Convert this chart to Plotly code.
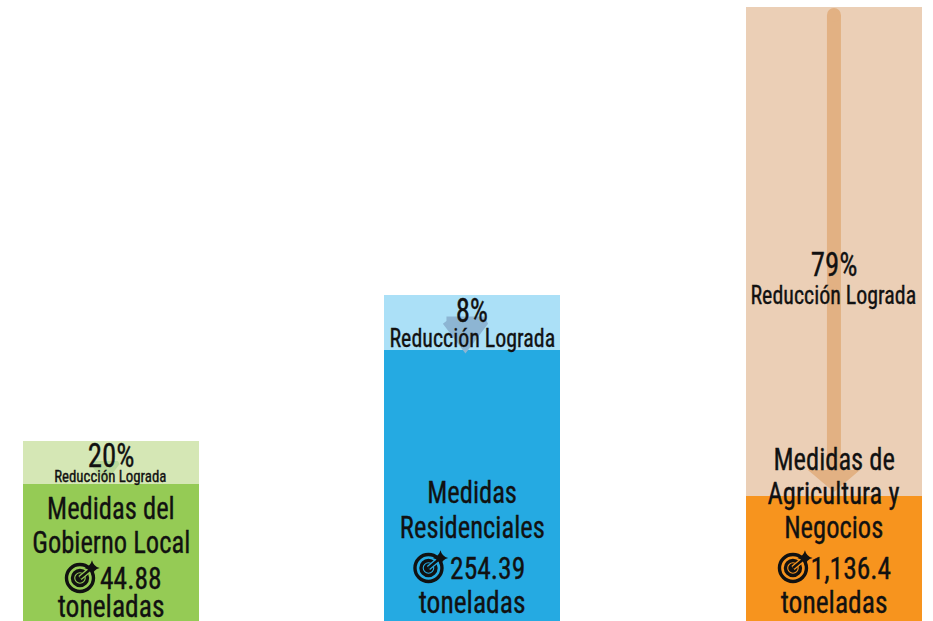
import json
import plotly.graph_objects as go

categories = ["Gobierno Local", "Residenciales", "Agricultura y Negocios"]
solid_heights = [137, 271, 125]
pale_heights = [43, 55, 489]
reductions = ["20%", "8%", "79%"]
tonnes = ["44.88", "254.39", "1,136.4"]
title_lines = [["Medidas del", "Gobierno Local"], ["Medidas", "Residenciales"], ["Medidas de", "Agricultura y", "Negocios"]]
solid_colors = ["#95CB55", "#25AAE2", "#F7941E"]
pale_colors = ["#D5E7B5", "#ABE0F7", "#EBCFB6"]
arrow_colors = ["#B9D99B", "#8DB5D3", "#E2B183"]
FONT = "Roboto Condensed"
INK = "#111111"
PX = 1 / 361.5  # one pixel in x-axis units

xs = [0, 1, 2]
fig = go.Figure()

def arrow_head(cx, tip, half_w, h, color, stroke=0):
    fig.add_scatter(x=[cx - half_w * PX, cx + half_w * PX, cx, cx - half_w * PX],
                    y=[tip + h, tip + h, tip, tip + h], mode="lines", fill="toself",
                    fillcolor=color, line=dict(color=color, width=stroke), hoverinfo="skip")

fig.add_bar(x=xs, y=solid_heights, marker=dict(color=solid_colors, line_width=0), width=0.487)
fig.add_bar(x=xs, y=pale_heights, marker=dict(color=pale_colors, line_width=0), width=0.487)

top = solid_heights[2] + pale_heights[2]
fig.add_scatter(x=[2, 2], y=[top - 8, solid_heights[2] + 18], mode="lines",
                line=dict(color=arrow_colors[2], width=14), hoverinfo="skip")
fig.add_scatter(x=[2], y=[top - 8], mode="markers",
                marker=dict(symbol="circle", size=14, color=arrow_colors[2]), hoverinfo="skip")
arrow_head(2, solid_heights[2] + 4, 26, 22, arrow_colors[2])
arrow_head(1 - 7 * PX, solid_heights[1] + 4, 19, 25, arrow_colors[1], stroke=9)
arrow_head(0 - 6 * PX, solid_heights[0] + 4, 13, 17, arrow_colors[0], stroke=4)

icon_dx = [-31 * PX, -44 * PX, -41 * PX]
icon_y = [43, 53, 53]
for i in xs:
    x = i + icon_dx[i]
    fig.add_scatter(x=[x, x, x], y=[icon_y[i]] * 3, mode="markers", hoverinfo="skip",
                    marker=dict(symbol=["circle-open", "circle-open", "circle"], size=[27, 15, 6],
                                color=INK, opacity=1, line=dict(color=INK, width=3.4)))
    fig.add_scatter(x=[x, x + 12 * PX], y=[icon_y[i], icon_y[i] + 10], mode="lines", hoverinfo="skip",
                    line=dict(color=solid_colors[i], width=5))
    fig.add_scatter(x=[x, x + 12 * PX], y=[icon_y[i], icon_y[i] + 10], mode="lines", hoverinfo="skip",
                    line=dict(color=INK, width=2.4))
    fig.add_scatter(x=[x + 12 * PX], y=[icon_y[i] + 10], mode="markers", hoverinfo="skip",
                    marker=dict(symbol="star-diamond", size=11, color=INK))

ann = []
def t(x, y, s, size):
    ann.append(dict(x=x, y=y, text=s, showarrow=False, xref="x", yref="y", xanchor="center", yanchor="middle",
                    font=dict(family=FONT, size=size, color=INK), align="center"))

pct_y = [166, 311, 357]
sub_y = [145, 283, 326]
sub_size = [17.3, 25.5, 25.5]
title_y = [[113, 79], [129, 94], [162, 128, 94]]
ton_dx = [20 * PX, 15 * PX, 17 * PX]
ton_y = [43, 53, 53]
tonel_y = [15, 19, 19]
for i in xs:
    t(i, pct_y[i], reductions[i], 33.5)
    t(i, sub_y[i], "Reducción Lograda", sub_size[i])
    for line, y in zip(title_lines[i], title_y[i]):
        t(i, y, line, 32)
    t(i + ton_dx[i], ton_y[i], tonnes[i], 32)
    t(i, tonel_y[i], "toneladas", 32)

fig.update_layout(
    width=933, height=621, barmode="stack", showlegend=False, bargap=0,
    margin=dict(l=0, r=0, t=0, b=0), paper_bgcolor="white", plot_bgcolor="white",
    xaxis=dict(range=[-0.307, 2.274], visible=False),
    yaxis=dict(range=[0, 621], visible=False),
    annotations=ann,
)
narrower = json.dumps([line for lines in title_lines for line in lines])
squeeze = """
document.body.style.margin = '0';
var narrower = %s;
document.querySelectorAll('.annotation-text').forEach(function (e) {
  var k = narrower.indexOf(e.textContent) >= 0 ? 0.83 : 0.86;
  e.setAttribute('lengthAdjust', 'spacingAndGlyphs');
  e.setAttribute('textLength', e.getComputedTextLength() * k);
  e.style.stroke = '%s';
  e.style.strokeWidth = '0.35px';
});
""" % (narrower, INK)
fig.write_html("out.html", config={"displayModeBar": False, "staticPlot": True}, post_script=squeeze)
